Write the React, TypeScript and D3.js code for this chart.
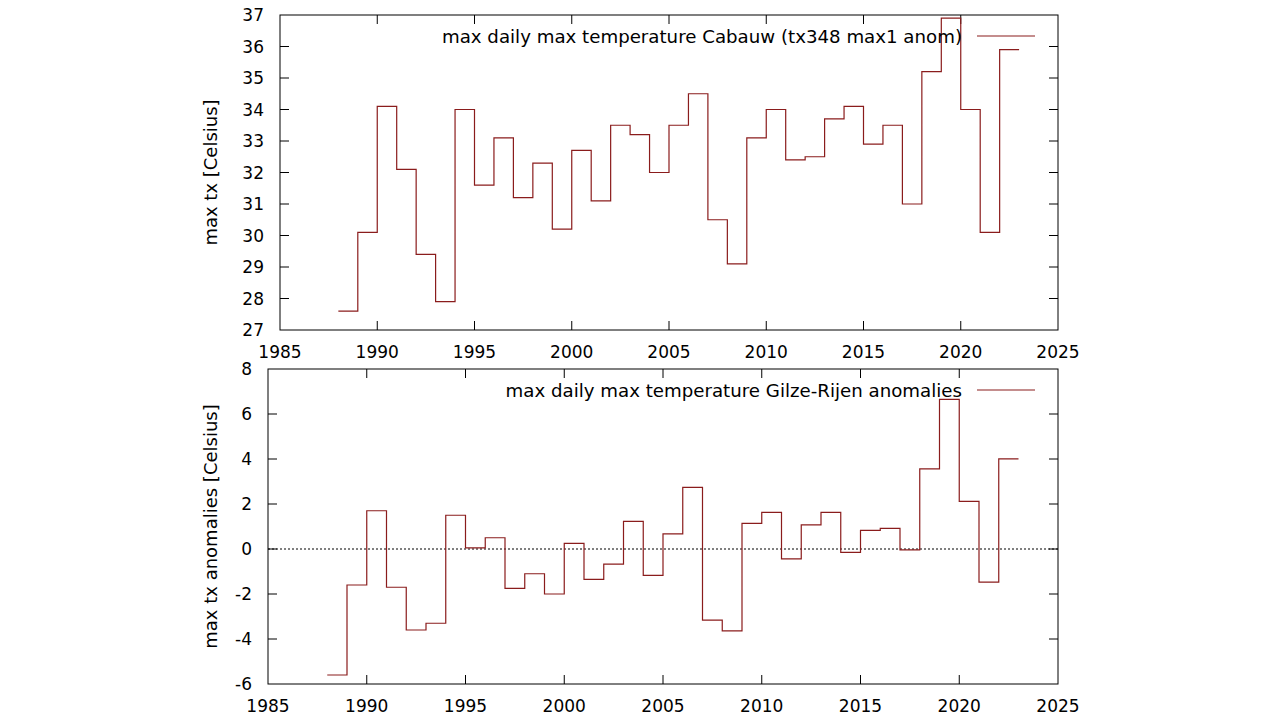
import * as d3 from 'd3';
import React, { useEffect, useRef } from 'react';

// one value per year, drawn as a step from year to year+1
const years = d3.range(1988, 2023);

const cabauwMax = [
  27.6, 30.1, 34.1, 32.1, 29.4, 27.9, 34.0, 31.6, 33.1, 31.2, 32.3, 30.2,
  32.7, 31.1, 33.5, 33.2, 32.0, 33.5, 34.5, 30.5, 29.1, 33.1, 34.0, 32.4,
  32.5, 33.7, 34.1, 32.9, 33.5, 31.0, 35.2, 36.9, 34.0, 30.1, 35.9,
];

const gilzeAnom = [
  -5.6, -1.6, 1.7, -1.7, -3.6, -3.3, 1.5, 0.05, 0.5, -1.75, -1.1, -2.0,
  0.25, -1.35, -0.67, 1.23, -1.17, 0.67, 2.74, -3.16, -3.64, 1.14, 1.63, -0.44,
  1.07, 1.63, -0.15, 0.83, 0.92, -0.04, 3.56, 6.65, 2.12, -1.47, 4.01,
];

const xTicks = d3.range(1985, 2026, 5);
const topTicks = d3.range(27, 38, 1);
const bottomTicks = d3.range(-6, 9, 2);

const LINE = '#8a1c1c';
const FONT = 'DejaVu Sans';

type Panel = {
  left: number;
  top: number;
  right: number;
  bottom: number;
  yDomain: [number, number];
  yTicks: number[];
  values: number[];
  yTitle: string;
  legend: string;
  zeroLine: boolean;
};

const panels: Panel[] = [
  {
    left: 280, top: 15, right: 1058, bottom: 330,
    yDomain: [27, 37], yTicks: topTicks, values: cabauwMax,
    yTitle: 'max tx [Celsius]',
    legend: 'max daily max temperature Cabauw (tx348 max1 anom)',
    zeroLine: false,
  },
  {
    left: 268, top: 369, right: 1058, bottom: 684,
    yDomain: [-6, 8], yTicks: bottomTicks, values: gilzeAnom,
    yTitle: 'max tx anomalies [Celsius]',
    legend: 'max daily max temperature Gilze-Rijen anomalies',
    zeroLine: true,
  },
];

export default function App() {
  const ref = useRef<SVGSVGElement | null>(null);

  useEffect(() => {
    const svg = d3.select(ref.current);
    svg.selectAll('*').remove();

    panels.forEach(p => {
      const x = d3.scaleLinear().domain([1985, 2025]).range([p.left, p.right]);
      const y = d3.scaleLinear().domain(p.yDomain).range([p.bottom, p.top]);
      const g = svg.append('g');
      const tick = 9;

      // ticks, mirrored on all four sides
      xTicks.forEach(t => {
        if (t === 1985 || t === 2025) return;
        g.append('line').attr('x1', x(t)).attr('x2', x(t))
          .attr('y1', p.bottom).attr('y2', p.bottom - tick).attr('stroke', '#000');
        g.append('line').attr('x1', x(t)).attr('x2', x(t))
          .attr('y1', p.top).attr('y2', p.top + tick).attr('stroke', '#000');
      });
      xTicks.forEach(t => {
        g.append('text').attr('x', x(t)).attr('y', p.bottom + 28)
          .attr('text-anchor', 'middle').attr('font-family', FONT).attr('font-size', 17)
          .text(t);
      });
      p.yTicks.forEach(t => {
        if (t !== p.yDomain[0] && t !== p.yDomain[1]) {
          g.append('line').attr('x1', p.left).attr('x2', p.left + tick)
            .attr('y1', y(t)).attr('y2', y(t)).attr('stroke', '#000');
          g.append('line').attr('x1', p.right).attr('x2', p.right - tick)
            .attr('y1', y(t)).attr('y2', y(t)).attr('stroke', '#000');
        }
        g.append('text').attr('x', p.left - 16).attr('y', y(t))
          .attr('dy', '0.36em').attr('text-anchor', 'end')
          .attr('font-family', FONT).attr('font-size', 17).text(t);
      });

      if (p.zeroLine) {
        g.append('line').attr('x1', p.left).attr('x2', p.right)
          .attr('y1', y(0)).attr('y2', y(0))
          .attr('stroke', '#000').attr('stroke-dasharray', '2,2');
      }

      // step line
      const pts: [number, number][] = p.values.map((v, i) => [years[i], v]);
      pts.push([years[years.length - 1] + 1, p.values[p.values.length - 1]]);
      const line = d3.line<[number, number]>()
        .x(d => x(d[0])).y(d => y(d[1]))
        .curve(d3.curveStepAfter);
      g.append('path').datum(pts).attr('d', line)
        .attr('fill', 'none').attr('stroke', LINE).attr('stroke-width', 1.2);

      // legend
      g.append('text').attr('x', 962).attr('y', p.top + 21)
        .attr('dy', '0.36em').attr('text-anchor', 'end')
        .attr('font-family', FONT).attr('font-size', 18.2).text(p.legend);
      g.append('line').attr('x1', 977).attr('x2', 1035)
        .attr('y1', p.top + 21).attr('y2', p.top + 21)
        .attr('stroke', LINE).attr('stroke-width', 1.2);

      // y title
      const cy = (p.top + p.bottom) / 2;
      g.append('text').attr('transform', `translate(211,${cy}) rotate(-90)`)
        .attr('dy', '0.36em').attr('text-anchor', 'middle')
        .attr('font-family', FONT).attr('font-size', 18).text(p.yTitle);

      g.append('rect').attr('x', p.left).attr('y', p.top)
        .attr('width', p.right - p.left).attr('height', p.bottom - p.top)
        .attr('fill', 'none').attr('stroke', '#000');
    });
  }, []);

  return (
    <svg ref={ref} width={1280} height={720}
      style={{ position: 'absolute', left: 0, top: 0, background: '#fff' }} />
  );
}
